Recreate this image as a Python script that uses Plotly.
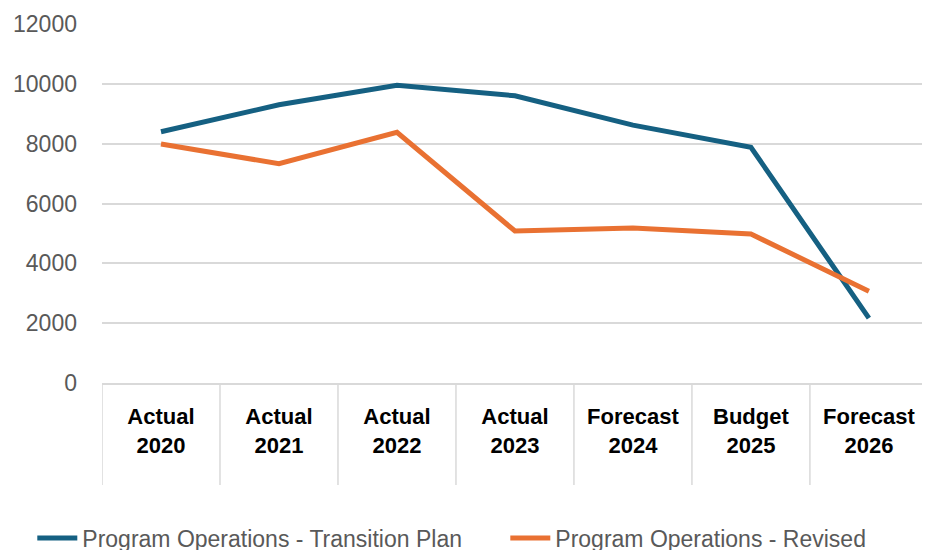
"""Line chart: Program Operations, transition plan vs revised."""
from plotly import graph_objects as go

categories = [
    "Actual<br>2020",
    "Actual<br>2021",
    "Actual<br>2022",
    "Actual<br>2023",
    "Forecast<br>2024",
    "Budget<br>2025",
    "Forecast<br>2026",
]
transition_plan = [8400, 9300, 9950, 9600, 8620, 7880, 2170]
revised = [7990, 7330, 8380, 5080, 5180, 4980, 3070]
y_ticks = [0, 2000, 4000, 6000, 8000, 10000, 12000]

BLUE = "#156082"
ORANGE = "#E97132"
GRID = "#D9D9D9"
PAD = "\u00a0" * 6  # extra room between the two legend entries

fig = go.Figure()
fig.add_trace(
    go.Scatter(
        x=list(range(len(categories))),
        y=transition_plan,
        mode="lines",
        name="Program Operations - Transition Plan" + PAD,
        line={"color": BLUE, "width": 5},
    )
)
fig.add_trace(
    go.Scatter(
        x=list(range(len(categories))),
        y=revised,
        mode="lines",
        name="Program Operations - Revised",
        line={"color": ORANGE, "width": 5},
    )
)

# category dividers hanging below the axis, like the Excel multi-level axis
for i in range(len(categories) + 1):
    fig.add_shape(
        type="line",
        xref="x",
        yref="paper",
        x0=i - 0.5,
        x1=i - 0.5,
        y0=0,
        y1=-0.284,
        line={"color": GRID, "width": 1.5},
        layer="below",
    )

fig.update_layout(
    width=914,
    height=542,
    margin={"l": 94, "r": 0, "t": 16, "b": 167, "autoexpand": False},
    paper_bgcolor="white",
    plot_bgcolor="white",
    font={"family": "Liberation Sans, Arial, sans-serif", "size": 22, "color": "#595959"},
    showlegend=True,
    legend={
        "orientation": "h",
        "x": -0.085,
        "xanchor": "left",
        "y": -0.432,
        "yanchor": "middle",
        "font": {"size": 23, "color": "#595959"},
        "itemwidth": 40,
        "tracegroupgap": 0,
    },
    xaxis={
        "tickmode": "array",
        "tickvals": list(range(len(categories))),
        "ticktext": [f"<b>{c}</b>" for c in categories],
        "tickfont": {"size": 22, "color": "black"},
        "range": [-0.5, 6.45],
        "showgrid": False,
        "zeroline": False,
        "showline": True,
        "linecolor": GRID,
        "linewidth": 1.5,
        "ticks": "",
        "ticklabelstandoff": 13,
        "ticklabeloverflow": "allow",
        "automargin": False,
    },
    yaxis={
        "range": [0, 12000],
        "tickmode": "array",
        "tickvals": y_ticks,
        "ticktext": [str(v) for v in y_ticks],
        "showgrid": True,
        "gridcolor": GRID,
        "gridwidth": 1.5,
        "zeroline": False,
        "showline": False,
        "ticklabelstandoff": 24,
        "tickfont": {"size": 23, "color": "#595959"},
        "automargin": False,
    },
)

fig.write_html("out.html")
